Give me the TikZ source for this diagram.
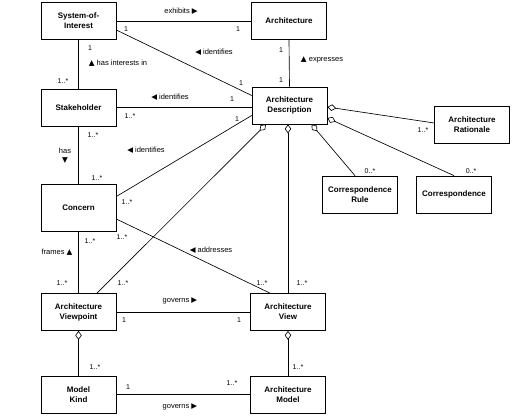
\documentclass[tikz,border=0pt]{standalone}
\usepackage{fontspec}
\setmainfont{Liberation Sans}
\newfontfamily\symf{DejaVu Sans}
\usetikzlibrary{arrows.meta,calc}

\newcommand{\rtri}{{\symf\fontsize{7.5}{7.5}\selectfont ▶}}
\newcommand{\ltri}{{\symf\fontsize{7.5}{7.5}\selectfont ◀}}
\newcommand{\utri}{{\symf\fontsize{7.5}{7.5}\selectfont ▲}}
\newcommand{\dtri}{{\symf\fontsize{7.5}{7.5}\selectfont ▼}}

\tikzset{
  cls/.style={draw, line width=0.7pt, minimum width=75pt, minimum height=37pt, inner sep=1pt, align=center, font=\bfseries\fontsize{8}{10}\selectfont},
  lbl/.style={inner sep=0pt, align=center, font=\fontsize{7.5}{9}\selectfont},
  mult/.style={inner sep=0pt, font=\fontsize{7}{8}\selectfont},
  assoc/.style={line width=0.65pt},
  aggr/.style={line width=0.65pt, -{Diamond[open, length=9pt, width=6.5pt]}}
}

\begin{document}
\begin{tikzpicture}[x=1pt, y=-1pt]
\useasboundingbox (0,0) rectangle (512,420);

% classes
\node[cls] (soi) at (78.5,21) {System-of-\\Interest};
\node[cls] (arch) at (289,21) {Architecture};
\node[cls] (stake) at (78.5,107.5) {Stakeholder};
\node[cls] (ad) at (289.5,105.5) {Architecture\\Description};
\node[cls] (rat) at (472,125) {Architecture\\Rationale};
\node[cls] (crule) at (360,194.5) {Correspondence\\Rule};
\node[cls] (corr) at (454,194.5) {Correspondence};
\node[cls, minimum height=47pt] (concern) at (78.5,207.5) {Concern};
\node[cls] (vp) at (78.5,312) {Architecture\\Viewpoint};
\node[cls] (view) at (288,312) {Architecture\\View};
\node[cls] (mk) at (78.5,394.5) {Model\\Kind};
\node[cls] (model) at (288,394.5) {Architecture\\Model};

% associations
\draw[assoc] (soi.east) -- (arch.west);
\draw[assoc] ($(soi.east)+(0,9)$) -- ($(ad.west)+(0,-10)$);
\draw[assoc] (soi.south) -- (stake.north);
\draw[assoc] (arch.south) -- (ad.north);
\draw[assoc] (stake.east) -- (stake.east -| ad.west);
\draw[assoc] ($(concern.east)+(0,-11)$) -- ($(ad.west)+(0,10)$);
\draw[assoc] (stake.south) -- (concern.north);
\draw[assoc] (concern.south) -- (vp.north);
\draw[assoc] ($(concern.east)+(0,11.5)$) -- ($(view.north)+(-18,0)$);
\draw[assoc] (vp.east) -- (view.west);
\draw[assoc] (mk.east) -- (model.west);

% aggregations
\draw[aggr] ($(vp.north)+(18.5,0)$) -- ($(ad.south)+(-23.5,0)$);
\draw[aggr] (view.north) -- (view.north |- ad.south);
\draw[aggr] ($(crule.north)+(-5,0)$) -- ($(ad.south)+(22,0)$);
\draw[aggr] (corr.north) -- ($(ad.east)+(0,12.5)$);
\draw[aggr] ($(rat.west)+(0,-2)$) -- ($(ad.east)+(0,1.5)$);
\draw[aggr] (mk.north) -- (vp.south);
\draw[aggr] (model.north) -- (view.south);

% association names
\node[lbl] (l1) at (181,11) {exhibits \rtri};
\node[lbl] (l2) at (214,52) {\ltri\ identifies};
\node[lbl] (l3) at (118,63) {\utri\ has interests in};
\node[lbl] (l4) at (170,97) {\ltri\ identifies};
\node[lbl] (l5) at (322,60) {\utri\ expresses};
\node[lbl] (l6) at (146,150) {\ltri\ identifies};
\node[lbl] (l7) at (65,156) {has\\\dtri};
\node[lbl] (l8) at (57,252) {frames \utri};
\node[lbl] (l9) at (211,250) {\ltri\ addresses};
\node[lbl] (l10) at (180,301) {governs \rtri};
\node[lbl] (l11) at (180,407) {governs \rtri};

% multiplicities
\node[mult] (m1) at (126,29) {1};
\node[mult] (m2) at (238,29) {1};
\node[mult] (m3) at (90,48) {1};
\node[mult] (m4) at (63,81) {1..*};
\node[mult] (m5) at (241,83) {1};
\node[mult] (m6) at (281,50) {1};
\node[mult] (m7) at (281,80) {1};
\node[mult] (m8) at (232,99) {1};
\node[mult] (m9) at (130,116) {1..*};
\node[mult] (m10) at (237,119) {1};
\node[mult] (m11) at (93,135) {1..*};
\node[mult] (m12) at (97,178) {1..*};
\node[mult] (m13) at (127,202) {1..*};
\node[mult] (m14) at (90,241) {1..*};
\node[mult] (m15) at (122,237) {1..*};
\node[mult] (m16) at (62,283) {1..*};
\node[mult] (m17) at (123,283) {1..*};
\node[mult] (m18) at (262,283) {1..*};
\node[mult] (m19) at (302,283) {1..*};
\node[mult] (m20) at (124,320) {1};
\node[mult] (m21) at (239,320) {1};
\node[mult] (m22) at (95,367) {1..*};
\node[mult] (m23) at (298,367) {1..*};
\node[mult] (m24) at (128,387) {1};
\node[mult] (m25) at (232,383) {1..*};
\node[mult] (m26) at (423,130) {1..*};
\node[mult] (m27) at (370,171) {0..*};
\node[mult] (m28) at (471,171) {0..*};

\end{tikzpicture}
\end{document}
